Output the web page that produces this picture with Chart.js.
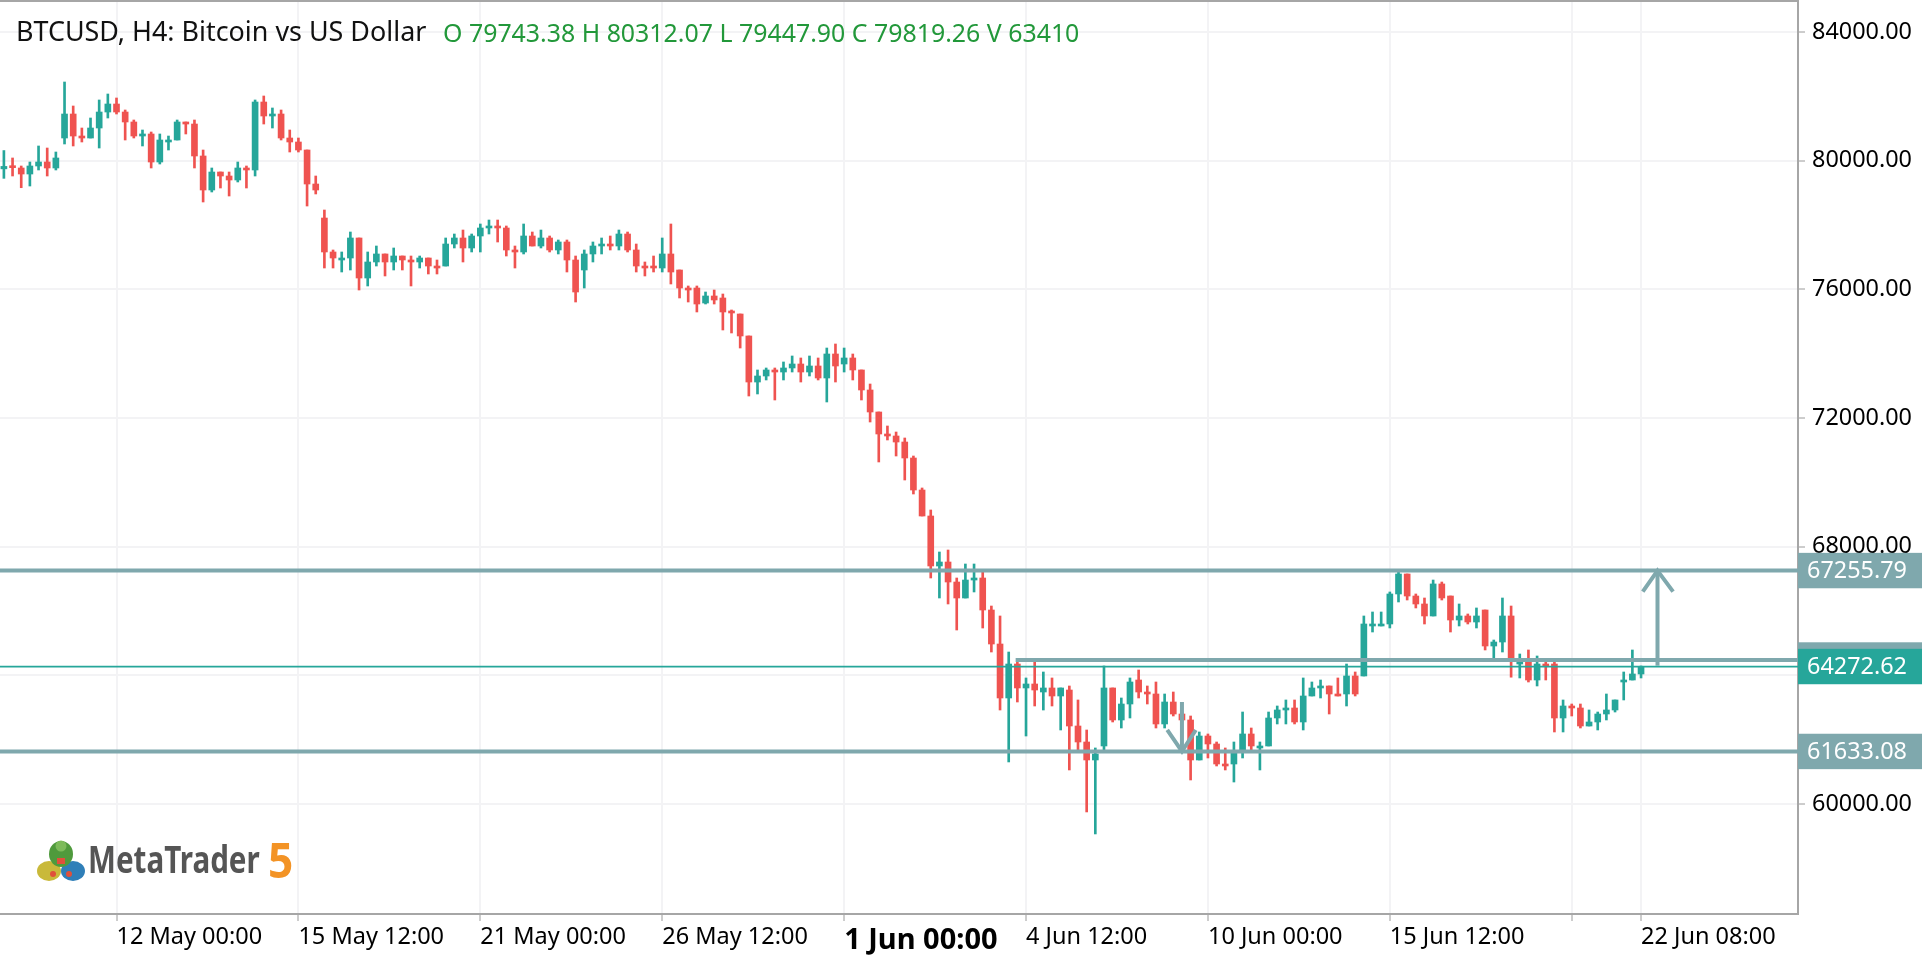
<!DOCTYPE html>
<html>
<head>
<meta charset="utf-8">
<script src="https://cdn.jsdelivr.net/npm/chart.js@4.4.1/dist/chart.umd.min.js"></script>
<style>
html,body{margin:0;padding:0;background:#fff;}
#wrap{position:relative;width:1922px;height:962px;overflow:hidden;background:#fff;}
#c{position:absolute;left:0;top:0;}
.t{position:absolute;white-space:nowrap;font-family:'Noto Sans',sans-serif;}
#title{left:16px;top:13px;font-size:26.9px;line-height:36px;color:#111;}
#ohlc{left:443px;top:15px;font-size:24.9px;line-height:34px;color:#22983a;}
#mt{left:88px;top:834px;font-size:37px;line-height:50px;font-weight:700;color:#555;transform:scaleX(0.8);transform-origin:0 0;}
#five{left:268px;top:828px;font-size:48px;line-height:64px;font-weight:700;color:#f39325;transform:scaleX(0.92);transform-origin:0 0;}
#logo{position:absolute;left:36px;top:838px;}
</style>
</head>
<body>
<div id="wrap">
<canvas id="c" width="1922" height="962"></canvas>
<div class="t" id="title">BTCUSD, H4: Bitcoin vs US Dollar</div>
<div class="t" id="ohlc">O 79743.38 H 80312.07 L 79447.90 C 79819.26 V 63410</div>
<svg id="logo" width="50" height="48" viewBox="0 0 50 48">
  <ellipse cx="13" cy="33" rx="12" ry="10" fill="#c9b93a"/>
  <ellipse cx="37" cy="33" rx="12" ry="10" fill="#2f7fb8"/>
  <ellipse cx="25" cy="16" rx="12" ry="13" fill="#4f9a3c"/>
  <circle cx="25" cy="8" r="5.5" fill="#7dbb5a"/>
  <rect x="21" y="20" width="8" height="6" fill="#e0503a"/>
  <circle cx="17" cy="36" r="3" fill="#e0503a"/>
  <circle cx="33" cy="36" r="3" fill="#e0503a"/>
</svg>
<div class="t" id="mt">MetaTrader</div>
<div class="t" id="five">5</div>
</div>
<script>
// ---- Data (H4 candles, bar index 0..189) ----
const opens = [
79743,79841,79770,79583,79832,79956,79770,80702,81448,80764,
80702,81013,81510,81759,81510,81200,80764,80827,79956,80578,
80640,81200,81137,80143,79086,79645,79521,79397,79770,79708,
81821,81386,81448,80702,80578,80329,79272,78215,77159,76910,
76972,77594,76350,76848,77097,76848,77034,76910,76848,76972,
76723,76723,77407,77594,77283,77656,77905,77967,77905,77221,
77159,77656,77345,77594,77221,77470,76910,76599,77097,77345,
77407,77345,77718,77221,76723,76723,76661,77097,76599,76039,
76039,75573,75791,75729,75294,75231,74548,73117,73304,73491,
73428,73553,73677,73428,73615,73242,73988,73677,73864,73491,
72869,72185,71501,71439,71252,70755,69760,68952,67398,67522,
66900,66403,66962,67025,66030,64973,63295,64351,63606,63730,
63481,63606,63357,63543,62424,61927,61368,61803,63606,62611,
63108,63854,63481,63419,62487,63170,62797,62611,61368,62113,
61865,61243,61243,61679,62176,61741,61803,62673,62922,62984,
62549,63357,63606,63668,63419,63419,63979,63979,65533,65533,
65595,66528,67149,66465,66217,65844,66839,66465,65719,65844,
65657,66030,64911,65035,65844,64351,64414,63854,64351,64351,
62673,63046,62984,62424,62549,62797,62922,63792,63854,64041
];
const highs = [
80312,80081,79832,79956,80454,80391,80267,82443,81697,81013,
81324,81884,82070,81946,81573,81262,80951,80889,80827,80764,
81262,81200,81262,80329,79770,79645,79645,79956,79832,81884,
82008,81635,81573,80951,80702,80329,79521,78464,77221,77159,
77780,77594,77159,77345,77097,77283,77034,77034,77034,76972,
76910,77594,77718,77842,77718,78029,78153,78153,77967,77345,
78029,77780,77842,77656,77532,77532,77034,77221,77470,77594,
77656,77842,77780,77407,76848,77034,77594,78029,76599,76102,
76102,75915,75977,75853,75356,75231,74548,73491,73553,73553,
73740,73926,73864,73926,73864,74174,74299,74174,73988,73491,
73055,72185,71750,71563,71377,70817,69823,69139,67833,67895,
67025,67460,67460,67211,66154,65844,64724,64414,63917,64414,
64103,63917,63606,63668,63233,62300,61741,64290,63606,63295,
63917,64165,63668,63792,63419,63481,62859,62735,62238,62176,
61927,61741,61927,62859,62362,61927,62859,63046,63233,63233,
63917,63792,63854,63668,63917,64351,64103,65844,65968,65968,
66590,67211,67149,66528,66403,66962,66900,66465,66217,65906,
66093,66030,65097,66403,66154,64662,64787,64600,64414,64414,
63233,63108,63108,62922,62859,63419,63233,64103,64787,64290
];
const lows = [
79448,79521,79157,79210,79708,79521,79708,80516,80454,80578,
80702,80391,81324,81448,80640,80702,80454,79770,79894,80329,
80640,80827,79770,78713,79024,79148,78899,79335,79148,79521,
81137,81013,80640,80267,80267,78588,78962,76661,76661,76537,
76599,75977,76102,76723,76413,76599,76599,76102,76661,76475,
76475,76723,77283,76848,77159,77159,77718,77469,77034,76661,
77097,77345,77283,77159,77097,76537,75604,76039,76848,77097,
77221,77221,77159,76537,76413,76537,76537,76164,75729,75604,
75294,75542,75542,74734,74641,74174,72682,72745,73180,72558,
73180,73428,73117,73304,73180,72496,73117,73428,73180,72558,
71874,70631,71315,70817,70071,69636,68952,67025,66403,66217,
65408,66403,66590,65470,64724,62921,61306,63170,62113,63046,
62921,63046,62300,61057,61679,59752,59068,61679,62549,62362,
62673,63295,63108,62362,62362,62735,62549,60746,61368,61430,
61181,61057,60683,61430,61679,61057,61803,62487,62487,62487,
62300,63357,63295,62797,63357,63046,63357,63979,65346,65533,
65471,66279,66341,66093,65595,65844,66341,65346,65533,65595,
65471,64787,64538,64724,63941,63917,63792,63668,63854,62238,
62238,62735,62362,62424,62300,62611,62859,63233,63854,63917
];
const closes = [
79819,79779,79583,79832,79956,79770,80081,81448,80764,80702,
81013,81510,81759,81510,81200,80764,80827,79956,80640,80640,
81200,81137,80143,79086,79645,79521,79397,79770,79708,81821,
81386,81448,80702,80578,80329,79272,79086,77159,76972,76972,
77594,76350,76848,77097,76848,77034,76910,76848,76972,76723,
76661,77407,77594,77283,77656,77905,77967,77905,77221,77159,
77656,77345,77594,77221,77470,76910,75915,77097,77345,77407,
77345,77718,77221,76723,76661,76661,77097,76537,76039,75977,
75542,75791,75667,75294,75263,74548,73117,73304,73491,73428,
73553,73677,73428,73615,73242,73988,73615,73864,73491,72869,
72185,71501,71439,71252,70755,69760,68952,67398,67522,66900,
66403,66962,67025,66030,64973,63295,64351,63606,63730,63543,
63606,63357,63606,62424,61927,61368,61554,63606,62611,63108,
63792,63481,63419,62487,63170,62797,62611,61368,62113,61865,
61243,61181,61616,62176,61803,61803,62673,62922,62984,62549,
63357,63606,63668,63419,63357,63979,63419,65595,65595,65595,
66528,67149,66465,66217,65844,66839,66403,65719,65844,65657,
65844,64911,65035,65844,64538,64414,63854,64351,64289,62673,
63046,62984,62424,62549,62797,62922,63233,63854,64041,64272.62
];

// x-axis tick positions (bar index) and labels
const xTickBars   = [13, 34, 55, 76, 97, 118, 139, 160, 181, 189];
const xTickLabels = ['12 May 00:00','15 May 12:00','21 May 00:00','26 May 12:00','1 Jun 00:00','4 Jun 12:00','10 Jun 00:00','15 Jun 12:00','','22 Jun 08:00'];
const boldTickIndex = 4;
// y-axis ticks
const yTicks = [60000, 64000, 68000, 72000, 76000, 80000, 84000];
const yMin = 56580, yMax = 84992;
const xMin = -0.45, xMax = 207.12;

// drawn objects
const levelHigh = 67255.79;
const levelLow = 61633.08;
const levelMid = 64476;
const levelMidStart = 116.8;
const bidPrice = 64272.62;
const downArrowShaft = [{x:136, y:63170}, {x:136, y:61633.08}];
const downArrowHead  = [{x:134.3, y:62300}, {x:136, y:61633.08}, {x:137.6, y:62300}];
const upArrowShaft   = [{x:190.9, y:64300}, {x:190.9, y:67255.79}];
const upArrowHead    = [{x:189.2, y:66600}, {x:190.9, y:67255.79}, {x:192.7, y:66600}];

const UP = '#26a69a', DN = '#ef5350', LVL = '#7fa8ad';
const FONT = "'Noto Sans'";

const idx = opens.map((_, i) => i);
const candleColors = idx.map(i => closes[i] >= opens[i] ? UP : DN);

const hline = (v, from) => [{x: from, y: v}, {x: xMax + 2, y: v}];
const lineDs = (data, color, width) => ({
  type: 'line', data, borderColor: color, borderWidth: width, pointRadius: 0,
  borderCapStyle: 'butt', borderJoinStyle: 'miter', tension: 0, order: 0, fill: false
});

const priceLabels = {
  id: 'priceLabels',
  afterDraw(chart) {
    const ctx = chart.ctx, ys = chart.scales.y, ca = chart.chartArea;
    ctx.save();
    // top frame line
    ctx.strokeStyle = '#a6a6a6'; ctx.lineWidth = 2;
    ctx.beginPath(); ctx.moveTo(0, 1); ctx.lineTo(ca.right + 1, 1); ctx.stroke();
    const boxes = [
      [levelMid, LVL, levelMid.toFixed(2)],
      [levelHigh, LVL, levelHigh.toFixed(2)],
      [levelLow, LVL, levelLow.toFixed(2)],
      [bidPrice, UP, bidPrice.toFixed(2)]
    ];
    ctx.font = "23.4px " + FONT;
    ctx.textBaseline = 'middle'; ctx.textAlign = 'left';
    for (const [v, col, txt] of boxes) {
      const py = ys.getPixelForValue(v);
      ctx.fillStyle = col;
      ctx.fillRect(ca.right, py - 17.7, chart.width - ca.right, 35.4);
      ctx.fillStyle = '#fff';
      ctx.fillText(txt, ca.right + 9, py + 1);
    }
    ctx.restore();
  }
};

new Chart(document.getElementById('c'), {
  type: 'bar',
  data: {
    datasets: [
      lineDs(hline(levelHigh, xMin - 2), LVL, 4),
      lineDs(hline(levelLow, xMin - 2), LVL, 4),
      lineDs(hline(levelMid, levelMidStart), LVL, 4),
      lineDs(hline(bidPrice, xMin - 2), UP, 1.8),
      lineDs(downArrowShaft, LVL, 4),
      lineDs(downArrowHead, LVL, 4),
      lineDs(upArrowShaft, LVL, 4),
      lineDs(upArrowHead, LVL, 4),
      {
        label: 'bodies',
        data: idx.map(i => ({x: i, y: [opens[i], closes[i]]})),
        backgroundColor: candleColors, barThickness: 6, minBarLength: 2,
        grouped: false, order: 2, borderWidth: 0
      },
      {
        label: 'wicks',
        data: idx.map(i => ({x: i, y: [lows[i], highs[i]]})),
        backgroundColor: candleColors, barThickness: 2,
        grouped: false, order: 3, borderWidth: 0
      }
    ]
  },
  options: {
    responsive: false,
    devicePixelRatio: 1,
    animation: false,
    layout: {padding: 0},
    plugins: {legend: {display: false}, tooltip: {enabled: false}, title: {display: false}},
    scales: {
      x: {
        type: 'linear', min: xMin, max: xMax, offset: false,
        grid: {color: '#f3f3f5', lineWidth: 2, tickColor: '#9a9a9a', tickLength: 7, tickWidth: 1, offset: false},
        border: {color: '#a6a6a6', width: 2},
        afterBuildTicks: s => { s.ticks = xTickBars.map(v => ({value: v})); },
        afterFit: s => { s.height = 48; s.paddingLeft = 0; s.paddingRight = 0; },
        ticks: {
          autoSkip: false, maxRotation: 0, minRotation: 0, align: 'start', padding: 2.5, color: '#000',
          font: c => c.index === boldTickIndex ? {family: FONT, size: 29, weight: 'bold'} : {family: FONT, size: 23.5},
          callback: (v, i) => xTickLabels[i]
        }
      },
      y: {
        type: 'linear', position: 'right', min: yMin, max: yMax,
        grid: {color: '#f3f3f5', lineWidth: 2, tickColor: '#9a9a9a', tickLength: 7, tickWidth: 1},
        border: {color: '#a6a6a6', width: 2},
        afterBuildTicks: s => { s.ticks = yTicks.map(v => ({value: v})); },
        afterFit: s => { s.width = 124; s.paddingTop = 0; s.paddingBottom = 0; },
        ticks: {padding: 7, color: '#000', font: {family: FONT, size: 23.4}, callback: v => Number(v).toFixed(2)}
      }
    }
  },
  plugins: [priceLabels]
});
</script>
</body>
</html>
